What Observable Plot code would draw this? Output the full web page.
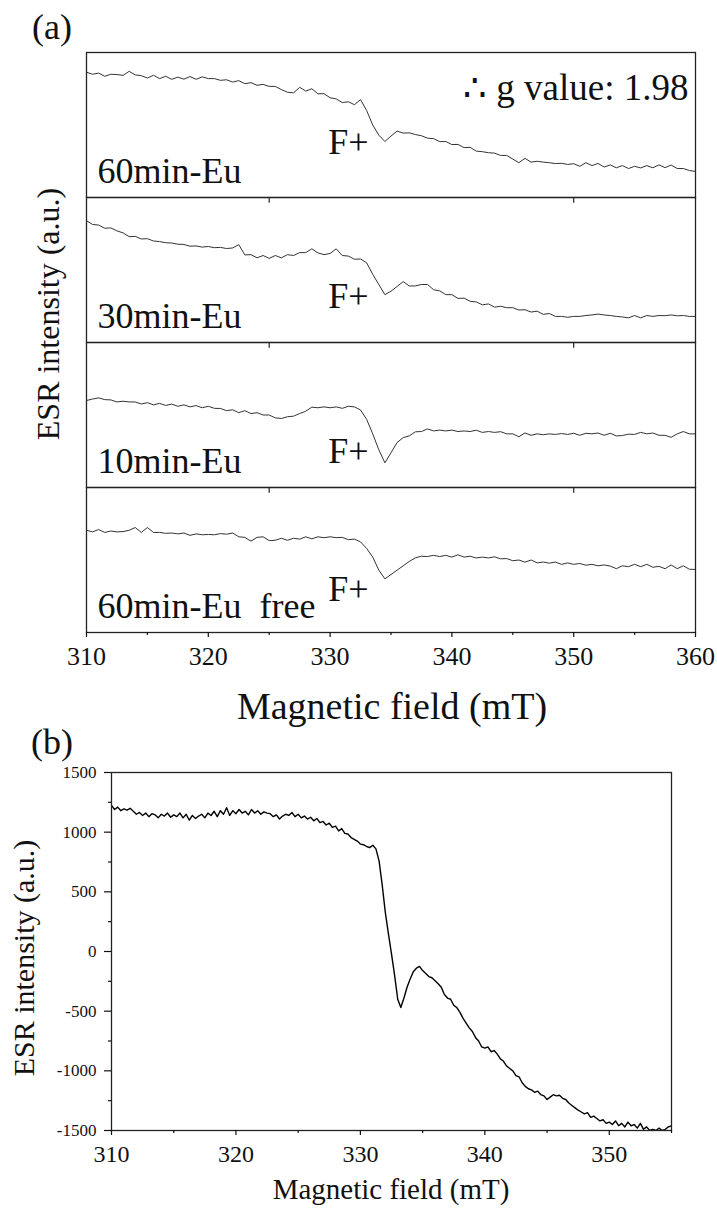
<!DOCTYPE html>
<html><head><meta charset="utf-8">
<script src="https://cdn.jsdelivr.net/npm/d3@7"></script>
<script src="https://cdn.jsdelivr.net/npm/@observablehq/plot@0.6"></script>
<style>
body{margin:0;background:#fff;}
#wrap{position:relative;width:717px;height:1210px;font-family:"Liberation Serif","Times New Roman",serif;color:#111;overflow:hidden;}
.t{position:absolute;white-space:nowrap;line-height:1;transform:translate(-50%,-50%);}
.r{transform:translate(-50%,-50%) rotate(-90deg);}
#pa,#pb{position:absolute;left:0;}
</style></head><body>
<div id="wrap">
  <div id="pa" style="top:0px"></div>
  <div id="pb" style="top:740px"></div>
  <div class="t" style="left:52px;top:27px;font-size:36px">(a)</div>
  <div class="t" style="left:392px;top:706px;font-size:38px">Magnetic field (mT)</div>
  <div class="t r" style="left:48px;top:314px;font-size:32px">ESR intensity (a.u.)</div>
  <div class="t" style="left:52px;top:742px;font-size:36px">(b)</div>
  <div class="t" style="left:391px;top:1189px;font-size:29px">Magnetic field (mT)</div>
  <div class="t r" style="left:24px;top:958px;font-size:30px">ESR intensity (a.u.)</div>
</div>
<script>
const serifStack = "'Liberation Serif', 'Times New Roman', serif";
// ---------- Panel (a) data: field 310..360 mT, step 0.5 (relative intensity, 0 = panel bottom, 100 = panel top)
const samples = ["60min-Eu", "30min-Eu", "10min-Eu", "60min-Eu  free"];
const s60 = [
  86.4, 85, 85.8, 83.6, 85, 84.8, 84.2, 87, 84.6, 84,
  82.4, 84.3, 82, 83.6, 81.5, 83, 81.6, 83.4, 81.5, 83.2,
  82, 82, 80.8, 81.2, 79.6, 80.6, 78.5, 79.2, 77.4, 78,
  76.6, 76.6, 74.4, 72.6, 72.2, 76, 73.4, 75, 71.5, 71.6,
  68.8, 68, 65.5, 66, 64, 67.5, 60, 50, 43, 38.6,
  42.4, 45.8, 44.4, 44.6, 43.4, 42.6, 40.9, 40.6, 38.5, 38.6,
  36.5, 36.6, 34.4, 34.6, 32, 31.6, 30.9, 30.6, 29, 29,
  26.5, 24, 27, 24.4, 25, 24.4, 24, 23.4, 23.6, 22.8,
  23.3, 21.5, 24, 22, 23.5, 21, 22.5, 20.5, 22, 20,
  21.5, 20.4, 22, 20.5, 22.5, 20.6, 22.4, 20, 20, 18.6,
  18
];
const s30 = [
  84, 81.4, 81, 78.8, 79, 77, 75.6, 73, 73.2, 71.4,
  71.6, 70, 69.6, 68.8, 68.6, 67.8, 67.6, 66.4, 66.6, 65.8,
  66.2, 65.4, 65.6, 64.8, 65.2, 67.5, 60.4, 60.6, 58.4, 60,
  58, 60, 58.4, 60.6, 60, 62, 62, 64.6, 61.8, 60.6,
  61.4, 64.6, 60, 59.6, 57.4, 57.6, 55, 47, 40, 33,
  35.4, 38.6, 42, 39, 39, 40, 40, 36.4, 35.6, 33,
  33, 30.4, 30.6, 28.4, 28, 26, 26.6, 24.4, 25, 24,
  24, 22.4, 22.6, 21, 21.6, 19.4, 20, 18, 18, 17.4,
  18, 18, 18.6, 19, 19.6, 19, 18.6, 18, 17.6, 17,
  18.6, 17, 18.6, 18, 18.6, 18.5, 19, 18.4, 18.6, 18,
  18
];
const s10 = [
  60, 61, 61.8, 60.6, 60.4, 59, 59.5, 59, 59, 57.6,
  58.5, 57, 58, 56.6, 57.5, 56, 57, 55.6, 56.5, 55,
  56, 54.6, 54.5, 53, 53.6, 51.6, 53, 51, 51.6, 50,
  50, 48, 47.6, 48.8, 49.2, 51, 52.6, 55.4, 55, 55.6,
  55, 55.6, 54.6, 56, 55.6, 53.5, 47, 37, 26, 17,
  24, 31, 34.4, 35.6, 38.4, 38.6, 40.4, 39, 39.6, 39,
  39.6, 38.6, 39, 38.6, 39.5, 38, 38.6, 38, 38.5, 37,
  37, 35, 37.6, 36, 37, 36.4, 37, 36.6, 37.2, 36.6,
  37.4, 36, 37.4, 37, 37.6, 36, 37.4, 35.6, 35.8, 36.8,
  36.6, 38, 37, 37.6, 36, 36, 34.6, 37, 38.6, 37,
  37
];
const sFree = [
  70.5, 69.4, 71, 69, 70, 69.4, 69.6, 70.5, 72.4, 69,
  72.4, 69, 69, 68.4, 68.6, 68, 68.6, 67, 68, 67.4,
  67.6, 67.4, 68.2, 67.8, 68.6, 66, 65.6, 63, 65.6, 66,
  63.4, 63.6, 65, 63.6, 65, 64.4, 66, 64.6, 66, 65.4,
  66, 65.4, 65.6, 64, 64.4, 62.5, 58, 52, 43, 37,
  40, 43, 46, 49, 51.5, 52.6, 52.4, 53.2, 52.4, 53.2,
  52, 53.6, 52, 52.6, 51.4, 52, 51.4, 52.2, 50.8, 51,
  49.5, 50, 48.5, 50, 48, 48.6, 47.8, 48.6, 47, 48,
  47, 47.6, 46.4, 47, 46, 46.6, 45.8, 44, 46, 45.4,
  47, 45.4, 47, 45, 45.6, 44, 46.6, 44, 46, 43.6,
  43.5
];
const seriesA = [s60, s30, s10, sFree];
const fieldA = d3.range(0, 101).map(i => 310 + i * 0.5);
const xMajorA = [310, 320, 330, 340, 350, 360];
const xMinorA = [315, 325, 335, 345, 355];
const dividerTicks = [325, 350];
const fplusX = [331.5, 331.5, 331.5, 331.5];
const fplusY = [30, 23.5, 17, 22];
const gLabel = "∴ g value: 1.98";

// ---------- Panel (b) data: field 310..355 mT, step 0.25
const sB = [
  1225, 1190, 1210, 1180,  1195, 1185, 1200, 1175,  1150, 1165, 1140, 1160,
  1130, 1155, 1145, 1120,  1150, 1135, 1160, 1125,  1145, 1130, 1160, 1120,
  1150, 1100, 1140, 1115,  1135, 1150, 1120, 1160,  1140, 1175, 1130, 1180,
  1150, 1205, 1140, 1180,  1155, 1190, 1160, 1175,  1145, 1190, 1160, 1180,
  1150, 1170, 1160, 1155,  1130, 1145, 1110, 1135,  1150, 1140, 1165, 1130,
  1150, 1120, 1135, 1110,  1125, 1095, 1115, 1080,  1090, 1060, 1075, 1040,
  1050, 1010, 1030, 990,   985, 955, 940, 925,      900, 895, 880, 870,
  890, 860, 760, 560,      330, 150, -20, -200,     -400, -470, -390, -300,
  -230, -170, -140, -125,  -160, -185, -210, -220,  -245, -270, -300, -360,
  -390, -400, -450, -470,  -510, -560, -600, -640,  -670, -720, -750, -800,
  -810, -800, -840, -830,  -860, -900, -920, -960,  -980, -1000, -1040, -1050,
  -1100, -1130, -1150, -1160,  -1180, -1170, -1200, -1210,  -1240, -1220, -1200, -1210,
  -1205, -1230, -1240, -1270,  -1290, -1310, -1330, -1345,  -1360, -1350, -1390, -1380,
  -1400, -1420, -1410, -1440,  -1430, -1450, -1420, -1460,  -1440, -1470, -1430, -1460,
  -1450, -1480, -1440, -1490,  -1470, -1500, -1490, -1500,  -1480, -1500, -1490, -1470,
  -1460
];
const fieldB = d3.range(0, 181).map(i => 310 + i * 0.25);
const xMajorB = [310, 320, 330, 340, 350];
const xMinorB = [315, 325, 335, 345, 355];
const yMajorB = [-1500, -1000, -500, 0, 500, 1000, 1500];
const yMinorB = [-1250, -750, -250, 250, 750, 1250];

// ---------- build tables
const dataA = samples.flatMap((s, k) => seriesA[k].map((v, i) => ({field: fieldA[i], v, s})));
const fplus = samples.map((s, k) => ({s, x: fplusX[k], y: fplusY[k]}));
const dividerRows = d3.cross(dividerTicks, samples.slice(1)).map(([x, s]) => ({x, s}));
const dataB = sB.map((v, i) => ({field: fieldB[i], v}));

const ink = "#111";
const plotA = Plot.plot({
  width: 717, height: 690,
  marginLeft: 86, marginRight: 22, marginTop: 52, marginBottom: 58,
  style: {fontFamily: serifStack, fontSize: "26px", color: ink, background: "transparent", overflow: "visible"},
  x: {domain: [310, 360]},
  y: {domain: [0, 100], axis: null},
  fy: {domain: samples, padding: 0, axis: null},
  marks: [
    Plot.lineY(dataA, {x: "field", y: "v", fy: "s", stroke: "#333", strokeWidth: 1}),
    Plot.frame({stroke: "#222", strokeWidth: 1.3}),
    Plot.axisX(xMinorA, {tickSize: 3, tickFormat: () => "", label: null, strokeWidth: 1.2}),
    Plot.axisX(xMajorA, {tickSize: 5, tickPadding: 9, tickFormat: d => String(d), label: null, strokeWidth: 1.2}),
    Plot.ruleX(dividerRows, {x: "x", fy: "s", y1: 100, y2: 96, stroke: "#222", strokeWidth: 1.2}),
    Plot.text(samples, {fy: d => d, text: d => d, frameAnchor: "bottom-left", dx: 11, dy: -15, lineAnchor: "bottom", textAnchor: "start", fontSize: 36, fill: ink}),
    Plot.text(fplus, {x: "x", y: "y", fy: "s", text: () => "F+", fontSize: 36, lineAnchor: "bottom", fill: ink}),
    Plot.text([{s: samples[0], t: gLabel}], {fy: "s", text: "t", frameAnchor: "top-right", textAnchor: "end", dx: -7, dy: 47, lineAnchor: "bottom", fontSize: 37, fill: ink})
  ]
});
document.getElementById("pa").appendChild(plotA);

const plotB = Plot.plot({
  width: 717, height: 470,
  marginLeft: 111, marginRight: 46, marginTop: 32, marginBottom: 80,
  style: {fontFamily: serifStack, fontSize: "24px", color: ink, background: "transparent", overflow: "visible"},
  x: {domain: [310, 355]},
  y: {domain: [-1500, 1500]},
  marks: [
    Plot.lineY(dataB, {x: "field", y: "v", stroke: "#000", strokeWidth: 1.4, clip: true}),
    Plot.frame({stroke: "#222", strokeWidth: 1.3}),
    Plot.axisX(xMinorB, {tickSize: 3, tickFormat: () => "", label: null, strokeWidth: 1.2}),
    Plot.axisX(xMajorB, {tickSize: 5, tickPadding: 9, tickFormat: d => String(d), label: null, strokeWidth: 1.2}),
    Plot.axisY(yMinorB, {tickSize: 3, tickFormat: () => "", label: null, strokeWidth: 1.2}),
    Plot.axisY(yMajorB, {tickSize: 7, tickPadding: 8, tickFormat: d => String(d), label: null, fontSize: 17, strokeWidth: 1.2})
  ]
});
document.getElementById("pb").appendChild(plotB);
</script>
</body></html>
